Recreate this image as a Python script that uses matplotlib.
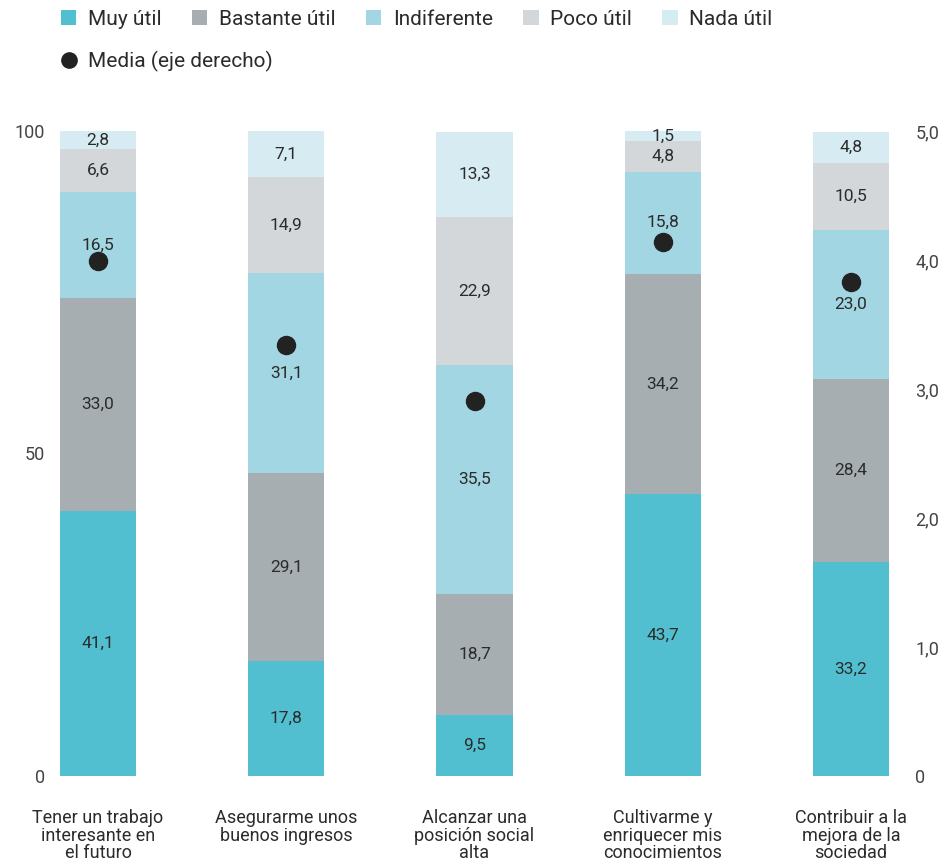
import matplotlib
matplotlib.use("Agg")
import matplotlib.pyplot as plt
import numpy as np
from matplotlib.patches import Patch
from matplotlib.lines import Line2D

plt.rcParams['font.family'] = ['Roboto', 'DejaVu Sans']

categories = ["Tener un trabajo\ninteresante en\nel futuro",
              "Asegurarme unos\nbuenos ingresos",
              "Alcanzar una\nposición social\nalta",
              "Cultivarme y\nenriquecer mis\nconocimientos",
              "Contribuir a la\nmejora de la\nsociedad"]
series_names = ["Muy útil", "Bastante útil", "Indiferente", "Poco útil", "Nada útil"]
muy_util = [41.1, 17.8, 9.5, 43.7, 33.2]
bastante_util = [33.0, 29.1, 18.7, 34.2, 28.4]
indiferente = [16.5, 31.1, 35.5, 15.8, 23.0]
poco_util = [6.6, 14.9, 22.9, 4.8, 10.5]
nada_util = [2.8, 7.1, 13.3, 1.5, 4.8]
media = [3.99, 3.34, 2.91, 4.14, 3.83]
left_ticks = [0, 50, 100]
right_ticks = [0, 1, 2, 3, 4, 5]
right_ticklabels = ["0", "1,0", "2,0", "3,0", "4,0", "5,0"]

colors = ["#52BFD0", "#A7AEB1", "#A2D6E2", "#D3D7DA", "#D7ECF2"]
text_color = "#2b2b2b"

W, H = 952, 867
fig = plt.figure(figsize=(W / 100, H / 100), dpi=100)
ax = fig.add_axes([60 / W, 1 - 776 / H, (889 - 60) / W, (776 - 131) / H])
ax2 = ax.twinx()

x = np.arange(len(categories))
width = 0.404
bottom = np.zeros(len(categories))
all_series = [muy_util, bastante_util, indiferente, poco_util, nada_util]
for vals, col, name in zip(all_series, colors, series_names):
    vals = np.array(vals)
    ax.bar(x, vals, width, bottom=bottom, color=col, label=name, zorder=2)
    for xi, b, v in zip(x, bottom, vals):
        ax.text(xi, b + v / 2, f"{v:.1f}".replace(".", ","), ha="center", va="center",
                fontsize=12.5, color=text_color, zorder=3)
    bottom += vals

ax2.plot(x, media, "o", color="#222222", markersize=13, zorder=5, linestyle="none")

ax.set_xlim(-width / 2, len(categories) - 1 + width / 2)
ax.set_ylim(0, 100)
ax2.set_ylim(0, 5)
ax.set_yticks(left_ticks)
ax.set_yticklabels([str(t) for t in left_ticks])
ax2.set_yticks(right_ticks)
ax2.set_yticklabels(right_ticklabels)
ax.set_xticks(x)
ax.set_xticklabels(categories, fontsize=13, color=text_color, linespacing=0.95)

for a in (ax, ax2):
    for s in a.spines.values():
        s.set_visible(False)
    a.tick_params(length=0, labelsize=13, colors=text_color)
ax.tick_params(axis="y", pad=11, labelcolor="#444444")
ax2.tick_params(axis="y", pad=19, labelcolor="#444444")
ax.tick_params(axis="x", pad=24)
ax2.set_zorder(ax.get_zorder() + 1)
ax2.patch.set_visible(False)

handles = [Patch(facecolor=c, edgecolor="none", label=n) for c, n in zip(colors, series_names)]
fig.legend(handles=handles, loc="upper left", bbox_to_anchor=(42 / W, 1 + 9 / H),
           ncol=5, frameon=False, fontsize=15, handlelength=0.75, handleheight=0.75,
           handletextpad=0.55, columnspacing=1.45, labelcolor=text_color)
mh = [Line2D([], [], marker="o", color="#222222", linestyle="none", markersize=11,
             label="Media (eje derecho)")]
fig.legend(handles=mh, loc="upper left", bbox_to_anchor=(42 / W, 1 - 32 / H),
           frameon=False, fontsize=15, handlelength=0.75, handletextpad=0.55,
           labelcolor=text_color)

fig.savefig("out.png", dpi=100)
